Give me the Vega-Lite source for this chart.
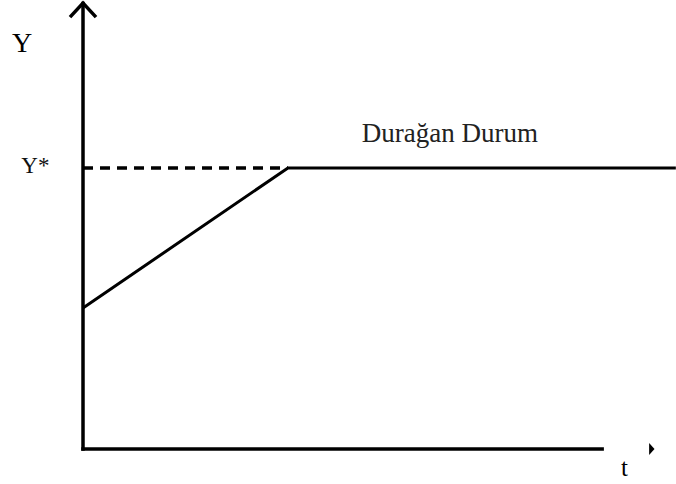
{
  "$schema": "https://vega.github.io/schema/vega-lite/v6.json",
  "width": 676,
  "height": 484,
  "padding": 0,
  "autosize": {"type": "none"},
  "background": "white",
  "config": {"view": {"stroke": null}},
  "datasets": {
    "axes": [
      {"x1": 0, "y1": 0, "x2": 0, "y2": 15.85},
      {"x1": 0, "y1": 0, "x2": 12.54, "y2": 0}
    ],
    "curve": [
      {"t": 0, "Y": 5.02},
      {"t": 4.95, "Y": 10},
      {"t": 14.32, "Y": 10}
    ],
    "dash": [
      {"t": 0, "Y": 10},
      {"t": 4.95, "Y": 10}
    ],
    "arrowY": [{"t": 0, "Y": 15.87}],
    "arrowX": [{"t": 13.74, "Y": 0}],
    "lblY": [{"label": "Y", "t": -1.47, "Y": 14.13}],
    "lblYs": [{"label": "Y*", "t": -1.15, "Y": 9.83}],
    "lblT": [{"label": "t", "t": 13.08, "Y": -0.96}],
    "lblSS": [{"label": "Durağan Durum", "t": 8.86, "Y": 10.91}]
  },
  "layer": [
    {
      "data": {"name": "axes"},
      "mark": {"type": "rule", "color": "black", "strokeWidth": 3.5, "strokeCap": "square"},
      "encoding": {
        "x": {"field": "x1", "type": "quantitative", "scale": {"domain": [-2.005, 14.324], "nice": false, "zero": false}, "axis": null},
        "y": {"field": "y1", "type": "quantitative", "scale": {"domain": [-1.2456, 15.979], "nice": false, "zero": false}, "axis": null},
        "x2": {"field": "x2"},
        "y2": {"field": "y2"}
      }
    },
    {
      "data": {"name": "curve"},
      "mark": {"type": "line", "color": "black", "strokeWidth": 3},
      "encoding": {
        "x": {"field": "t", "type": "quantitative", "scale": {"domain": [-2.005, 14.324], "nice": false, "zero": false}, "axis": null},
        "y": {"field": "Y", "type": "quantitative", "scale": {"domain": [-1.2456, 15.979], "nice": false, "zero": false}, "axis": null}
      }
    },
    {
      "data": {"name": "dash"},
      "mark": {"type": "line", "color": "black", "strokeWidth": 3.5, "strokeDash": [10, 7]},
      "encoding": {
        "x": {"field": "t", "type": "quantitative", "scale": {"domain": [-2.005, 14.324], "nice": false, "zero": false}, "axis": null},
        "y": {"field": "Y", "type": "quantitative", "scale": {"domain": [-1.2456, 15.979], "nice": false, "zero": false}, "axis": null}
      }
    },
    {
      "data": {"name": "arrowY"},
      "mark": {"type": "point", "shape": "M-1,1.08L0,0L1,1.08", "filled": false, "stroke": "black", "strokeWidth": 3.5, "size": 676, "opacity": 1},
      "encoding": {
        "x": {"field": "t", "type": "quantitative", "scale": {"domain": [-2.005, 14.324], "nice": false, "zero": false}, "axis": null},
        "y": {"field": "Y", "type": "quantitative", "scale": {"domain": [-1.2456, 15.979], "nice": false, "zero": false}, "axis": null}
      }
    },
    {
      "data": {"name": "arrowX"},
      "mark": {"type": "point", "shape": "M-0.45,-1L0.45,0L-0.45,1Z", "filled": true, "color": "black", "size": 144, "opacity": 1},
      "encoding": {
        "x": {"field": "t", "type": "quantitative", "scale": {"domain": [-2.005, 14.324], "nice": false, "zero": false}, "axis": null},
        "y": {"field": "Y", "type": "quantitative", "scale": {"domain": [-1.2456, 15.979], "nice": false, "zero": false}, "axis": null}
      }
    },
    {
      "data": {"name": "lblY"},
      "mark": {"type": "text", "font": "Liberation Serif", "fontSize": 28, "color": "black", "align": "center", "baseline": "alphabetic"},
      "encoding": {
        "x": {"field": "t", "type": "quantitative", "scale": {"domain": [-2.005, 14.324], "nice": false, "zero": false}, "axis": null},
        "y": {"field": "Y", "type": "quantitative", "scale": {"domain": [-1.2456, 15.979], "nice": false, "zero": false}, "axis": null},
        "text": {"field": "label"}
      }
    },
    {
      "data": {"name": "lblYs"},
      "mark": {"type": "text", "font": "Liberation Serif", "fontSize": 23, "color": "#111111", "align": "center", "baseline": "alphabetic"},
      "encoding": {
        "x": {"field": "t", "type": "quantitative", "scale": {"domain": [-2.005, 14.324], "nice": false, "zero": false}, "axis": null},
        "y": {"field": "Y", "type": "quantitative", "scale": {"domain": [-1.2456, 15.979], "nice": false, "zero": false}, "axis": null},
        "text": {"field": "label"}
      }
    },
    {
      "data": {"name": "lblT"},
      "mark": {"type": "text", "font": "Liberation Serif", "fontSize": 25, "color": "black", "align": "center", "baseline": "alphabetic"},
      "encoding": {
        "x": {"field": "t", "type": "quantitative", "scale": {"domain": [-2.005, 14.324], "nice": false, "zero": false}, "axis": null},
        "y": {"field": "Y", "type": "quantitative", "scale": {"domain": [-1.2456, 15.979], "nice": false, "zero": false}, "axis": null},
        "text": {"field": "label"}
      }
    },
    {
      "data": {"name": "lblSS"},
      "mark": {"type": "text", "font": "Liberation Serif", "fontSize": 27, "color": "#222222", "align": "center", "baseline": "alphabetic"},
      "encoding": {
        "x": {"field": "t", "type": "quantitative", "scale": {"domain": [-2.005, 14.324], "nice": false, "zero": false}, "axis": null},
        "y": {"field": "Y", "type": "quantitative", "scale": {"domain": [-1.2456, 15.979], "nice": false, "zero": false}, "axis": null},
        "text": {"field": "label"}
      }
    }
  ]
}
